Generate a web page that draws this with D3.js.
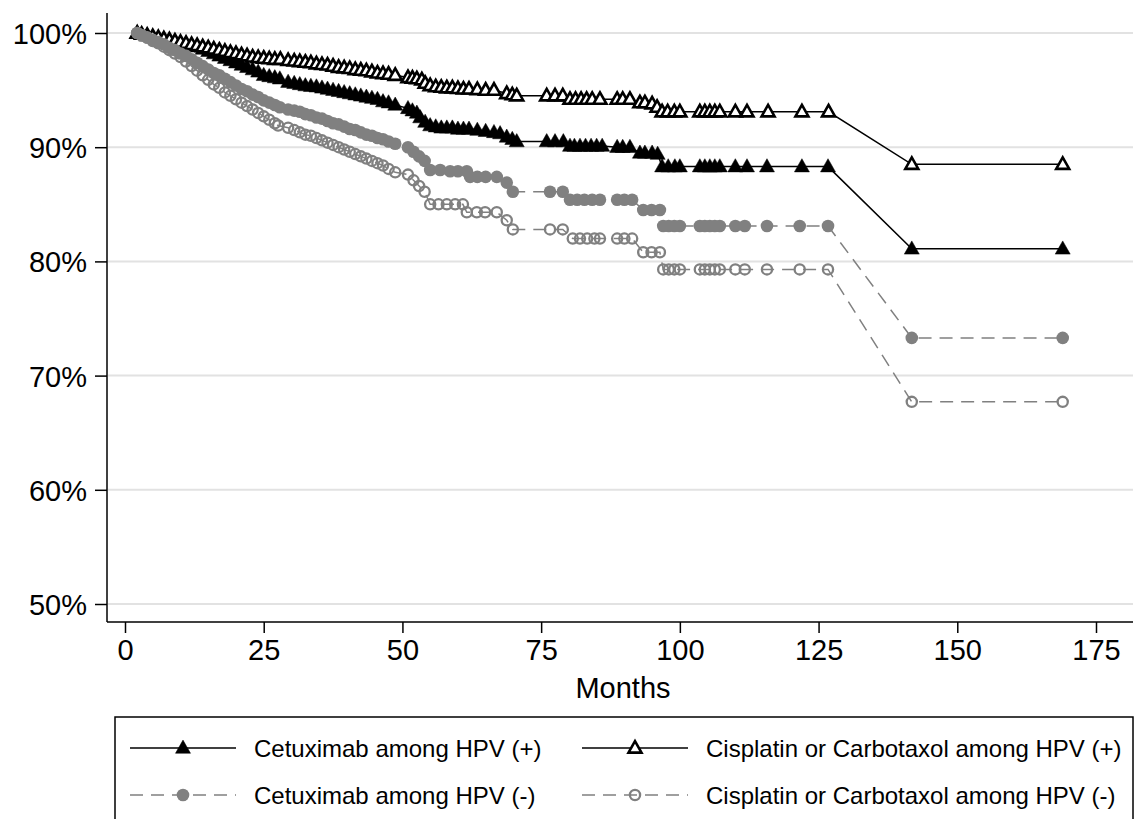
<!DOCTYPE html>
<html>
<head>
<meta charset="utf-8">
<script src="https://cdn.jsdelivr.net/npm/d3@7"></script>
<style>
  html, body { margin: 0; padding: 0; background: #fff; }
  svg { display: block; font-family: "Liberation Sans", Arial, Helvetica, sans-serif; }
</style>
</head>
<body>
<div id="chart"></div>
<script>
// Kaplan-Meier style survival curves, four treatment / HPV groups
// values are [months, survival %]

const cetHpvPos = [
  [2.2,100],[3,99.9],[4,99.8],[5,99.6],[6,99.5],[7,99.4],[8,99.3],[9,99.2],[10,99.1],[11,99.0],
  [12,98.9],[13,98.8],[14,98.6],[15,98.4],[16,98.2],[17,98.0],[18,97.8],[19,97.6],[20,97.4],
  [21,97.2],[22,97.0],[23,96.8],[24,96.6],[25,96.3],[26,96.2],[27,96.1],[27.9,96.0],[29.4,95.7],
  [30.5,95.6],[31.5,95.5],[32.5,95.4],[33.5,95.35],[34.5,95.3],[35.5,95.2],[36.5,95.1],[37.5,95.0],
  [38.5,94.9],[39.5,94.8],[40.5,94.7],[41.5,94.6],[42.5,94.5],[43.5,94.4],[44.5,94.3],[45.5,94.2],
  [46.5,94.0],[47.5,93.9],[48.7,93.7],[51,93.4],[51.8,93.2],[52.6,93.0],[53.2,92.6],[54.1,92.2],
  [55,91.9],[56,91.8],[57,91.7],[58,91.7],[59,91.7],[60,91.6],[61,91.6],[62,91.6],[63.5,91.5],
  [65,91.4],[66.5,91.3],[67.6,91.2],[68.8,90.9],[69.8,90.7],[70.6,90.5],[76,90.5],[77.5,90.5],
  [79,90.5],[80.2,90.1],[81,90.1],[82,90.1],[83,90.1],[84,90.1],[85,90.1],[86,90.1],[88.7,90.0],
  [89.7,90.0],[91,90.0],[92.8,89.5],[93.7,89.5],[95,89.5],[96,89.4],[96.8,88.3],[97.9,88.3],
  [99.1,88.3],[100,88.3],[103.6,88.3],[104.5,88.3],[105.4,88.3],[106.3,88.3],[107.2,88.3],
  [110,88.3],[112.1,88.3],[115.7,88.3],[122,88.3],[126.7,88.3],[141.8,81.1],[169,81.1]
];

const cisHpvPos = [
  [2.2,100],[3,99.9],[4,99.8],[5,99.7],[6,99.6],[7,99.5],[8,99.4],[9,99.3],[10,99.2],[11,99.1],
  [12,99.0],[13,98.9],[14,98.8],[15,98.7],[16,98.6],[17,98.5],[18,98.4],[19,98.3],[20,98.2],
  [21,98.1],[22,98.0],[23,97.9],[24,97.85],[25,97.8],[26,97.75],[27,97.7],[28,97.7],[29.4,97.6],
  [30.5,97.55],[31.5,97.5],[32.5,97.45],[33.5,97.4],[34.5,97.3],[35.5,97.25],[36.5,97.2],[37.5,97.1],
  [38.5,97.0],[39.5,96.95],[40.5,96.9],[41.5,96.8],[42.5,96.75],[43.5,96.7],[44.5,96.6],[45.5,96.5],
  [46.5,96.45],[47.5,96.4],[48.7,96.3],[51,96.1],[51.8,96.05],[52.6,96.0],[53.5,95.9],[54.1,95.6],
  [55,95.4],[56,95.3],[57,95.25],[58,95.2],[59,95.2],[60,95.15],[61,95.1],[62,95.1],[63.5,95.05],
  [65,95.0],[66.5,95.0],[68.8,94.7],[69.8,94.6],[70.6,94.5],[76,94.5],[77.5,94.5],[78.9,94.5],
  [80.2,94.2],[81.2,94.2],[82.2,94.2],[83.2,94.2],[84.2,94.2],[85.6,94.2],[88.7,94.2],[89.7,94.2],
  [91,94.2],[92.8,93.9],[93.7,93.9],[95,93.8],[95.9,93.5],[96.8,93.1],[97.8,93.1],[99,93.1],
  [100,93.1],[103.6,93.1],[104.5,93.1],[105.4,93.1],[106.3,93.1],[107.2,93.1],[110,93.1],
  [112.1,93.1],[115.9,93.1],[122,93.1],[126.8,93.1],[141.8,88.5],[169,88.5]
];

const cetHpvNeg = [
  [2.2,100],[3,99.8],[4,99.6],[5,99.4],[6,99.2],[7,99.0],[8,98.7],[9,98.5],[10,98.2],[11,98.0],
  [12,97.7],[13,97.4],[14,97.1],[15,96.8],[16,96.5],[17,96.3],[18,96.0],[19,95.7],[20,95.4],
  [21,95.1],[22,94.9],[23,94.6],[24,94.4],[25,94.1],[26,93.9],[27,93.7],[27.9,93.5],[29.4,93.3],
  [30.5,93.2],[31.5,93.1],[32.5,92.9],[33.5,92.8],[34.5,92.6],[35.5,92.5],[36.5,92.3],[37.5,92.1],
  [38.5,92.0],[39.5,91.8],[40.5,91.6],[41.5,91.5],[42.5,91.3],[43.5,91.1],[44.5,91.0],[45.5,90.8],
  [46.5,90.7],[47.5,90.5],[48.7,90.3],[51,90.0],[52,89.6],[53,89.2],[54,88.8],[55,88.0],[56.8,88.0],
  [58.6,87.9],[60,87.9],[61.6,87.9],[62.2,87.4],[63.5,87.4],[65,87.4],[67,87.4],[68.8,86.9],
  [69.9,86.1],[76.6,86.1],[78.9,86.1],[80.2,85.4],[81.5,85.4],[82.8,85.4],[84.2,85.4],[85.6,85.4],
  [88.7,85.4],[90,85.4],[91.4,85.4],[93.4,84.5],[94.9,84.5],[96.4,84.5],[97,83.1],[98,83.1],
  [99,83.1],[100,83.1],[103.6,83.1],[104.5,83.1],[105.4,83.1],[106.3,83.1],[107.2,83.1],[110,83.1],
  [111.7,83.1],[115.7,83.1],[121.6,83.1],[126.7,83.1],[141.8,73.3],[169,73.3]
];

const cisHpvNeg = [
  [2.2,100],[3,99.8],[4,99.6],[5,99.3],[6,99.1],[7,98.8],[8,98.5],[9,98.2],[10,97.9],[11,97.5],
  [12,97.1],[13,96.7],[14,96.3],[15,95.9],[16,95.5],[17,95.2],[18,94.8],[19,94.5],[20,94.2],
  [21,93.9],[22,93.6],[23,93.3],[24,93.0],[25,92.7],[26,92.4],[27,92.1],[27.6,91.9],[29.4,91.7],
  [30.5,91.5],[31.5,91.3],[32.5,91.1],[33.5,91.0],[34.5,90.8],[35.5,90.6],[36.5,90.4],[37.5,90.2],
  [38.5,90.0],[39.5,89.8],[40.5,89.6],[41.5,89.4],[42.5,89.2],[43.5,89.0],[44.5,88.8],[45.5,88.6],
  [46.5,88.4],[47.5,88.1],[48.7,87.8],[51,87.6],[52,87.1],[53,86.6],[54,86.1],[55,85.0],[56.5,85.0],
  [58,85.0],[59.5,85.0],[60.9,85.0],[61.6,84.3],[63.4,84.3],[64.9,84.3],[67,84.3],[68.8,83.6],
  [69.9,82.8],[76.6,82.8],[78.9,82.8],[80.7,82.0],[82,82.0],[83.3,82.0],[84.6,82.0],[85.6,82.0],
  [88.7,82.0],[90,82.0],[91.4,82.0],[93.4,80.8],[94.9,80.8],[96.4,80.8],[97,79.3],[98,79.3],
  [99,79.3],[100,79.3],[103.6,79.3],[104.5,79.3],[105.4,79.3],[106.3,79.3],[107.2,79.3],[110,79.3],
  [111.7,79.3],[115.7,79.3],[121.6,79.3],[126.7,79.3],[141.8,67.7],[169,67.7]
];

const seriesNames = [
  'Cetuximab among HPV (+)',
  'Cisplatin or Carbotaxol among HPV (+)',
  'Cetuximab among HPV (-)',
  'Cisplatin or Carbotaxol among HPV (-)'
];
const xTicks = [0, 25, 50, 75, 100, 125, 150, 175];
const yTicks = [50, 60, 70, 80, 90, 100];
const xTitle = 'Months';

(function () {
  const W = 1135, H = 819;
  const BLACK = '#000', GREY = '#808080', GRID = '#e2e2e2';

  const svg = d3.select('#chart').append('svg')
    .attr('width', W).attr('height', H);

  // scales: pixel anchors taken from the tick positions in the figure
  const x = d3.scaleLinear().domain([0, 175]).range([125, 1096]);
  const y = d3.scaleLinear().domain([50, 100]).range([604, 33]);
  const plotLeft = 107, plotRight = 1133, plotTop = 13, plotBottom = 622;

  // ---- grid lines ----
  svg.append('g').selectAll('line').data(yTicks).join('line')
    .attr('x1', plotLeft + 1).attr('x2', plotRight)
    .attr('y1', d => y(d)).attr('y2', d => y(d))
    .attr('stroke', GRID).attr('stroke-width', 2);

  // ---- axes ----
  const yAxisG = svg.append('g').attr('transform', `translate(${plotLeft},0)`)
    .call(d3.axisLeft(y).tickValues(yTicks).tickSize(12).tickPadding(8).tickFormat(d => d + '%'));
  const xAxisG = svg.append('g').attr('transform', `translate(0,${plotBottom})`)
    .call(d3.axisBottom(x).tickValues(xTicks).tickSize(11).tickPadding(6).tickFormat(d3.format('d')));

  yAxisG.select('.domain').attr('d', `M0,${plotTop}V${plotBottom}`);
  xAxisG.select('.domain').attr('d', `M${plotLeft},0H${plotRight}`);
  [xAxisG, yAxisG].forEach(a => {
    a.selectAll('path,line').attr('stroke', BLACK).attr('stroke-width', 1.5);
    a.selectAll('text').attr('fill', BLACK).attr('font-size', '29px')
      .attr('font-family', '"Liberation Sans", Arial, sans-serif');
  });
  yAxisG.selectAll('text').attr('dy', '0.36em');
  xAxisG.selectAll('text').attr('dy', '0.72em');

  svg.append('text').attr('x', (plotLeft + plotRight) / 2 + 3).attr('y', 698)
    .attr('text-anchor', 'middle').attr('font-size', '29px').attr('fill', BLACK)
    .text(xTitle);

  // ---- markers ----
  const triPath = (s) => {
    const h = s * 0.88;
    return `M0,${-h * 0.6}L${s / 2},${h * 0.4}L${-s / 2},${h * 0.4}Z`;
  };
  const styles = [
    { data: cetHpvPos, color: BLACK, dash: null, marker: 'tri', fill: BLACK },
    { data: cisHpvPos, color: BLACK, dash: null, marker: 'tri', fill: '#fff' },
    { data: cetHpvNeg, color: GREY, dash: '13,8', marker: 'circle', fill: GREY },
    { data: cisHpvNeg, color: GREY, dash: '13,8', marker: 'circle', fill: 'none' }
  ];

  function drawMarker(g, st) {
    if (st.marker === 'tri') {
      const open = st.fill !== BLACK;
      g.append('path').attr('d', triPath(open ? 13 : 15))
        .attr('fill', st.fill).attr('stroke', BLACK)
        .attr('stroke-width', open ? 2.6 : 0.5)
        .attr('stroke-linejoin', 'miter');
    } else {
      const filled = st.fill !== 'none';
      g.append('circle').attr('r', filled ? 6.3 : 5.1)
        .attr('fill', st.fill).attr('stroke', GREY)
        .attr('stroke-width', filled ? 0 : 2.3);
    }
  }

  const line = d3.line().x(d => x(d[0])).y(d => y(d[1]));

  styles.forEach(st => {
    const g = svg.append('g');
    g.append('path').datum(st.data).attr('d', line)
      .attr('fill', 'none').attr('stroke', st.color).attr('stroke-width', 1.5)
      .attr('stroke-dasharray', st.dash);
    g.selectAll('g.pt').data(st.data).join('g').attr('class', 'pt')
      .attr('transform', d => `translate(${x(d[0])},${y(d[1])})`)
      .each(function () { drawMarker(d3.select(this), st); });
  });

  // ---- legend ----
  const legend = svg.append('g');
  legend.append('rect').attr('x', 115).attr('y', 717).attr('width', 1018).attr('height', 130)
    .attr('fill', '#fff').attr('stroke', BLACK).attr('stroke-width', 1.5);

  const cols = [130, 582];
  const rows = [748, 795];
  styles.forEach((st, i) => {
    const lx = cols[i % 2], ly = rows[Math.floor(i / 2)];
    const g = legend.append('g');
    g.append('line').attr('x1', lx).attr('x2', lx + 106).attr('y1', ly).attr('y2', ly)
      .attr('stroke', st.color).attr('stroke-width', 1.5).attr('stroke-dasharray', st.dash);
    const m = g.append('g').attr('transform', `translate(${lx + 53},${ly})`);
    drawMarker(m, st);
    g.append('text').attr('x', lx + 124).attr('y', ly).attr('dy', '0.36em')
      .attr('font-size', '24px').attr('fill', BLACK).text(seriesNames[i]);
  });
})();
</script>
</body>
</html>
